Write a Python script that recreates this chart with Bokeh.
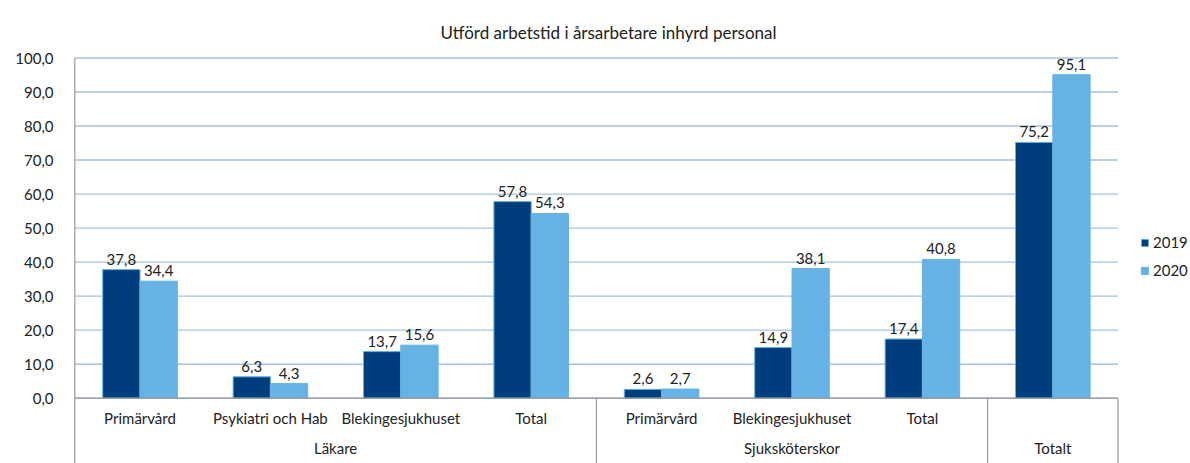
from bokeh.plotting import figure
from bokeh.models import (Range1d, FixedTicker, CustomJSTickFormatter, ColumnDataSource,
                          Legend, LegendItem)
from bokeh.transform import dodge
from bokeh.core.properties import value
from bokeh.embed import file_html
from bokeh.resources import INLINE

# ---------------- data ----------------
title_text = "Utförd arbetstid i årsarbetare inhyrd personal"
groups = ["Läkare", "Läkare", "Läkare", "Läkare",
          "Sjuksköterskor", "Sjuksköterskor", "Sjuksköterskor", "Totalt"]
categories = ["Primärvård", "Psykiatri och Hab", "Blekingesjukhuset", "Total",
              "Primärvård", "Blekingesjukhuset", "Total", ""]
years = ["2019", "2020"]
v2019 = [37.8, 6.3, 13.7, 57.8, 2.6, 14.9, 17.4, 75.2]
v2020 = [34.4, 4.3, 15.6, 54.3, 2.7, 38.1, 40.8, 95.1]
y_ticks = [0, 10, 20, 30, 40, 50, 60, 70, 80, 90, 100]

# ---------------- style ----------------
FONT = "Lato"
DARK = "#003d7c"
LIGHT = "#66b2e4"
TXT = "#222222"
AXIS = "#9a9a9a"
GRID = "#a9c1de"

def fmt(v):
    return f"{v:.1f}".replace(".", ",")

n = len(categories)
xs = [i + 0.5 for i in range(n)]
src = ColumnDataSource(dict(
    x=xs, cat=categories,
    v2019=v2019, v2020=v2020,
    l2019=[fmt(v) for v in v2019], l2020=[fmt(v) for v in v2020],
))

# group spans
gnames, gstart, gend = [], [], []
for i, g in enumerate(groups):
    if not gnames or gnames[-1] != g:
        gnames.append(g); gstart.append(i); gend.append(i + 1)
    else:
        gend[-1] = i + 1
gsrc = ColumnDataSource(dict(name=gnames, x=[(a + b) / 2 for a, b in zip(gstart, gend)]))

y_bottom = -19.19
y_top = 103.09
x_end = -0.01 + 1117 / 130.4   # room on the right for the legend

p = figure(width=1190, height=463, output_backend="svg", toolbar_location=None,
           x_range=Range1d(-0.01, x_end), y_range=Range1d(y_bottom, y_top),
           x_axis_location=None, min_border_left=73, min_border_right=0,
           min_border_top=47, min_border_bottom=0)
p.outline_line_color = None

p.title.text = title_text
p.title.align = "left"
p.title.offset = 367
p.title.text_font = FONT
p.title.text_font_size = "17px"
p.title.text_font_style = "normal"
p.title.text_color = TXT

ticker = FixedTicker(ticks=y_ticks)
p.yaxis.ticker = ticker
p.yaxis.formatter = CustomJSTickFormatter(code="return tick.toFixed(1).replace('.', ',');")
p.yaxis.axis_line_color = None
p.yaxis.major_tick_line_color = None
p.yaxis.minor_tick_line_color = None
p.yaxis.major_label_standoff = 14
p.yaxis.major_label_text_font = FONT
p.yaxis.major_label_text_font_size = "15px"
p.yaxis.major_label_text_color = TXT
p.xgrid.visible = False
p.ygrid.visible = False

# horizontal gridlines over the category span only
p.segment(x0=[0] * len(y_ticks), y0=y_ticks, x1=[n] * len(y_ticks), y1=y_ticks,
          line_color=GRID, line_width=1.4)

w = 0.286
off = w / 2
r1 = p.vbar(x=dodge("x", -off, range=p.x_range), top="v2019", width=w, bottom=0,
            source=src, fill_color=DARK, line_color=LIGHT, line_width=1)
r2 = p.vbar(x=dodge("x", off, range=p.x_range), top="v2020", width=w, bottom=0,
            source=src, fill_color=LIGHT, line_color=LIGHT, line_width=1)

for col, lab, o in (("v2019", "l2019", -off), ("v2020", "l2020", off)):
    p.text(x=dodge("x", o, range=p.x_range), y=col, text=lab, source=src,
           text_align="center", text_baseline="bottom", y_offset=-5,
           text_font=value(FONT), text_font_size=value("15px"), text_color=TXT)

# category axis frame
p.segment(x0=[0], y0=[0], x1=[n], y1=[0], line_color=AXIS, line_width=1.2)
p.segment(x0=[0], y0=[100], x1=[0], y1=[y_bottom], line_color=AXIS, line_width=1.2)
seps = gend
p.segment(x0=seps, y0=[0] * len(seps), x1=seps, y1=[y_bottom] * len(seps),
          line_color=AXIS, line_width=1.2)

p.text(x="x", y=0, text="cat", source=src, y_offset=20, text_align="center",
       text_baseline="middle", text_font=value(FONT), text_font_size=value("15px"),
       text_color=TXT)
p.text(x="x", y=0, text="name", source=gsrc, y_offset=50, text_align="center",
       text_baseline="middle", text_font=value(FONT), text_font_size=value("15px"),
       text_color=TXT)

legend = Legend(items=[LegendItem(label=years[0], renderers=[r1]),
                       LegendItem(label=years[1], renderers=[r2])],
                location=(1067, 184), border_line_color=None,
                background_fill_alpha=0, padding=0, margin=0,
                glyph_width=9, glyph_height=9, label_height=9, spacing=10,
                label_standoff=4, label_text_font=FONT, label_text_font_size="15px",
                label_text_color=TXT)
p.add_layout(legend)

open("out.html", "w").write(file_html(p, INLINE))
